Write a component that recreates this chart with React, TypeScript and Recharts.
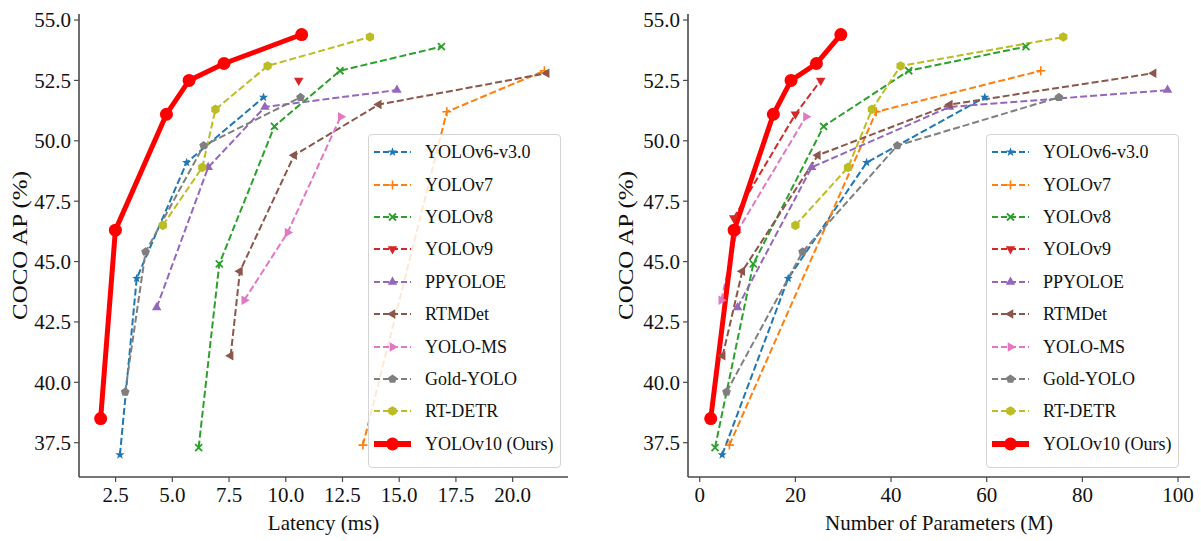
import React from 'react';
import { LineChart, Line, XAxis, YAxis, Legend } from 'recharts';

const FONT = '"Liberation Serif", "Times New Roman", Times, serif';

// ---- series meta ----
const seriesNames = ['YOLOv6-v3.0', 'YOLOv7', 'YOLOv8', 'YOLOv9', 'PPYOLOE', 'RTMDet', 'YOLO-MS', 'Gold-YOLO', 'RT-DETR', 'YOLOv10 (Ours)'];
const seriesColors = ['#1f77b4', '#ff7f0e', '#2ca02c', '#d62728', '#9467bd', '#8c564b', '#e377c2', '#7f7f7f', '#bcbd22', '#ff0000'];
const seriesMarkers = ['star', 'plus', 'x', 'tridown', 'triup', 'trileft', 'triright', 'pentagon', 'hexagon', 'circle'];

// ---- latency (ms) ----
const latYOLOv6 = [2.69, 3.43, 5.63, 9.02];
const latYOLOv7 = [13.4, 17.1, 21.4];
const latYOLOv8 = [6.16, 7.07, 9.5, 12.39, 16.86];
const latYOLOv9 = [10.57];
const latPPYOLOE = [4.31, 6.58, 9.08, 14.9];
const latRTMDet = [7.57, 7.98, 10.37, 14.1, 21.5];
const latYOLOMS = [8.17, 10.08, 12.42];
const latGoldYOLO = [2.92, 3.82, 6.38, 10.65];
const latRTDETR = [4.58, 6.32, 6.9, 9.2, 13.71];
const latYOLOv10 = [1.84, 2.49, 4.74, 5.74, 7.28, 10.7];

// ---- parameters (M) ----
const parYOLOv6 = [4.7, 18.5, 34.9, 59.6];
const parYOLOv7 = [6.2, 36.9, 71.3];
const parYOLOv8 = [3.2, 11.2, 25.9, 43.7, 68.2];
const parYOLOv9 = [7.1, 20.0, 25.3];
const parPPYOLOE = [7.9, 23.4, 52.2, 97.8];
const parRTMDet = [4.8, 8.9, 24.7, 52.3, 94.9];
const parYOLOMS = [4.5, 7.7, 22.2];
const parGoldYOLO = [5.6, 21.5, 41.3, 75.1];
const parRTDETR = [20, 31, 36, 42, 76];
const parYOLOv10 = [2.3, 7.2, 15.4, 19.1, 24.4, 29.5];

// ---- COCO AP (%) ----
const apYOLOv6 = [37.0, 44.3, 49.1, 51.8];
const apYOLOv7 = [37.4, 51.2, 52.9];
const apYOLOv8 = [37.3, 44.9, 50.6, 52.9, 53.9];
const apYOLOv9Latency = [52.5];
const apYOLOv9Params = [46.8, 51.1, 52.5];
const apPPYOLOE = [43.1, 48.9, 51.4, 52.1];
const apRTMDet = [41.1, 44.6, 49.4, 51.5, 52.8];
const apYOLOMS = [43.4, 46.2, 51.0];
const apGoldYOLO = [39.6, 45.4, 49.8, 51.8];
const apRTDETR = [46.5, 48.9, 51.3, 53.1, 54.3];
const apYOLOv10 = [38.5, 46.3, 51.1, 52.5, 53.2, 54.4];

// ---- ticks ----
const yTicks = [37.5, 40.0, 42.5, 45.0, 47.5, 50.0, 52.5, 55.0];
const latencyTicks = [2.5, 5.0, 7.5, 10.0, 12.5, 15.0, 17.5, 20.0];
const paramTicks = [0, 20, 40, 60, 80, 100];

const zip = (xs: number[], ys: number[]) => xs.map((x, i) => ({ x, y: ys[i] }));

const latencyData = [
  zip(latYOLOv6, apYOLOv6),
  zip(latYOLOv7, apYOLOv7),
  zip(latYOLOv8, apYOLOv8),
  zip(latYOLOv9, apYOLOv9Latency),
  zip(latPPYOLOE, apPPYOLOE),
  zip(latRTMDet, apRTMDet),
  zip(latYOLOMS, apYOLOMS),
  zip(latGoldYOLO, apGoldYOLO),
  zip(latRTDETR, apRTDETR),
  zip(latYOLOv10, apYOLOv10),
];

const paramData = [
  zip(parYOLOv6, apYOLOv6),
  zip(parYOLOv7, apYOLOv7),
  zip(parYOLOv8, apYOLOv8),
  zip(parYOLOv9, apYOLOv9Params),
  zip(parPPYOLOE, apPPYOLOE),
  zip(parRTMDet, apRTMDet),
  zip(parYOLOMS, apYOLOMS),
  zip(parGoldYOLO, apGoldYOLO),
  zip(parRTDETR, apRTDETR),
  zip(parYOLOv10, apYOLOv10),
];

const poly = (cx: number, cy: number, r: number, n: number, start: number) => {
  const pts: string[] = [];
  for (let i = 0; i < n; i++) {
    const a = ((start + (i * 360) / n) * Math.PI) / 180;
    pts.push(`${cx + r * Math.cos(a)},${cy + r * Math.sin(a)}`);
  }
  return pts.join(' ');
};

const star = (cx: number, cy: number, R: number, r: number) => {
  const pts: string[] = [];
  for (let i = 0; i < 10; i++) {
    const a = ((-90 + i * 36) * Math.PI) / 180;
    const rr = i % 2 === 0 ? R : r;
    pts.push(`${cx + rr * Math.cos(a)},${cy + rr * Math.sin(a)}`);
  }
  return pts.join(' ');
};

function drawMarker(shape: string, cx: number, cy: number, color: string, key?: any) {
  switch (shape) {
    case 'star':
      return <polygon key={key} points={star(cx, cy, 4.8, 2)} fill={color} />;
    case 'plus':
      return <path key={key} d={`M${cx - 4.5},${cy}H${cx + 4.5}M${cx},${cy - 4.5}V${cy + 4.5}`} stroke={color} strokeWidth={1.6} fill="none" />;
    case 'x':
      return <path key={key} d={`M${cx - 3.5},${cy - 3.5}L${cx + 3.5},${cy + 3.5}M${cx - 3.5},${cy + 3.5}L${cx + 3.5},${cy - 3.5}`} stroke={color} strokeWidth={1.8} fill="none" />;
    case 'tridown':
      return <polygon key={key} points={poly(cx, cy, 5.5, 3, 90)} fill={color} />;
    case 'triup':
      return <polygon key={key} points={poly(cx, cy, 5.5, 3, -90)} fill={color} />;
    case 'trileft':
      return <polygon key={key} points={poly(cx, cy, 5.5, 3, 180)} fill={color} />;
    case 'triright':
      return <polygon key={key} points={poly(cx, cy, 5.5, 3, 0)} fill={color} />;
    case 'pentagon':
      return <polygon key={key} points={poly(cx, cy, 4.6, 5, -90)} fill={color} />;
    case 'hexagon':
      return <polygon key={key} points={poly(cx, cy, 4.8, 6, -90)} fill={color} />;
    default:
      return <circle key={key} cx={cx} cy={cy} r={6.5} fill={color} />;
  }
}

const LegendBox = () => (
  <div
    style={{
      width: 193,
      height: 334,
      boxSizing: 'border-box',
      border: '1px solid #d4d4d4',
      borderRadius: 4,
      background: 'rgba(255,255,255,0.82)',
      paddingTop: 1,
      fontFamily: FONT,
      fontSize: 18,
      color: '#111',
    }}
  >
    {seriesNames.map((n, i) => {
      const last = i === seriesNames.length - 1;
      return (
        <div key={n} style={{ height: 32.4, display: 'flex', alignItems: 'center' }}>
          <svg width={37} height={20} style={{ marginLeft: 5, marginRight: 14, overflow: 'visible' }}>
            <line
              x1={0}
              y1={10}
              x2={37}
              y2={10}
              stroke={seriesColors[i]}
              strokeWidth={last ? 6 : 2}
              strokeDasharray={last ? undefined : '6 3'}
            />
            {drawMarker(seriesMarkers[i], 18.5, 10, seriesColors[i])}
          </svg>
          <span style={{ whiteSpace: 'nowrap', lineHeight: '20px' }}>{n}</span>
        </div>
      );
    })}
  </div>
);

const SPINE = '#4a4a4a';
const Y_DOMAIN: [number, number] = [36.08, 55.25];

type PanelProps = {
  data: { x: number; y: number }[][];
  xDomain: [number, number];
  xTicks: number[];
  xFmt: (v: number) => string;
  xTitle: string;
  width: number;
  yAxisWidth: number;
  rightMargin: number;
  legendLeft: number;
  yTitleX: number;
};

function Panel(p: PanelProps) {
  const plotCenter = p.yAxisWidth + (p.width - p.yAxisWidth - p.rightMargin) / 2;
  return (
    <LineChart width={p.width} height={541} margin={{ top: 14, right: p.rightMargin, bottom: 0, left: 0 }}>
      <XAxis
        type="number"
        dataKey="x"
        domain={p.xDomain}
        ticks={p.xTicks}
        allowDataOverflow
        height={64}
        tickSize={5}
        tickMargin={5}
        tickFormatter={p.xFmt}
        tick={{ fill: '#111', fontSize: 21, fontFamily: FONT }}
        axisLine={{ stroke: SPINE, strokeWidth: 1.6 }}
        tickLine={{ stroke: SPINE, strokeWidth: 1.2 }}
        label={{
          content: () => (
            <text x={plotCenter} y={530} textAnchor="middle" fontSize={21} fontFamily={FONT} fill="#111">
              {p.xTitle}
            </text>
          ),
        }}
      />
      <XAxis
        xAxisId="top"
        orientation="top"
        type="number"
        domain={p.xDomain}
        allowDataOverflow
        height={0}
        tick={false}
        tickLine={false}
        axisLine={{ stroke: SPINE, strokeWidth: 1.6 }}
      />
      <YAxis
        type="number"
        domain={Y_DOMAIN}
        ticks={yTicks}
        allowDataOverflow
        width={p.yAxisWidth}
        tickSize={5}
        tickMargin={3}
        tickFormatter={(v: number) => v.toFixed(1)}
        tick={{ fill: '#111', fontSize: 21, fontFamily: FONT }}
        axisLine={{ stroke: SPINE, strokeWidth: 1.6 }}
        tickLine={{ stroke: SPINE, strokeWidth: 1.2 }}
        label={{
          content: () => (
            <text
              transform={`translate(${p.yTitleX},245.5) rotate(-90) scale(1.19,1)`}
              x={0}
              y={0}
              textAnchor="middle"
              dominantBaseline="central"
              fontSize={21}
              fontFamily={FONT}
              fill="#111"
            >
              COCO AP (%)
            </text>
          ),
        }}
      />
      <YAxis
        yAxisId="right"
        orientation="right"
        type="number"
        domain={Y_DOMAIN}
        allowDataOverflow
        width={0}
        tick={false}
        tickLine={false}
        axisLine={{ stroke: SPINE, strokeWidth: 1.6 }}
      />
      <Legend
        layout="vertical"
        align="center"
        verticalAlign="middle"
        content={() => <LegendBox />}
        wrapperStyle={{ left: p.legendLeft, top: 134, width: 193, height: 334, zIndex: 5 }}
      />
      {p.data.map((pts, i) => {
        const last = i === p.data.length - 1;
        return (
          <Line
            key={seriesNames[i]}
            name={seriesNames[i]}
            data={pts}
            dataKey="y"
            type="linear"
            stroke={seriesColors[i]}
            strokeWidth={last ? 5 : 2}
            strokeDasharray={last ? undefined : '7 3'}
            isAnimationActive={false}
            activeDot={false}
            dot={(d: any) => drawMarker(seriesMarkers[i], d.cx, d.cy, seriesColors[i], `${i}-${d.index}`)}
          />
        );
      })}
    </LineChart>
  );
}

export default function App() {
  return (
    <div style={{ position: 'absolute', left: 0, top: 0, width: 1201, height: 541, background: '#fff', overflow: 'hidden' }}>
      <div style={{ position: 'absolute', left: 0, top: 0 }}>
        <Panel
          data={latencyData}
          xDomain={[0.886, 22.44]}
          xTicks={latencyTicks}
          xFmt={(v: number) => v.toFixed(1)}
          xTitle="Latency (ms)"
          width={600}
          yAxisWidth={79}
          rightMargin={32}
          legendLeft={368}
          yTitleX={20}
        />
      </div>
      <div style={{ position: 'absolute', left: 600, top: 0 }}>
        <Panel
          data={paramData}
          xDomain={[-2.45, 102.5]}
          xTicks={paramTicks}
          xFmt={(v: number) => String(v)}
          xTitle="Number of Parameters (M)"
          width={601}
          yAxisWidth={88}
          rightMargin={11}
          legendLeft={386}
          yTitleX={26}
        />
      </div>
    </div>
  );
}
